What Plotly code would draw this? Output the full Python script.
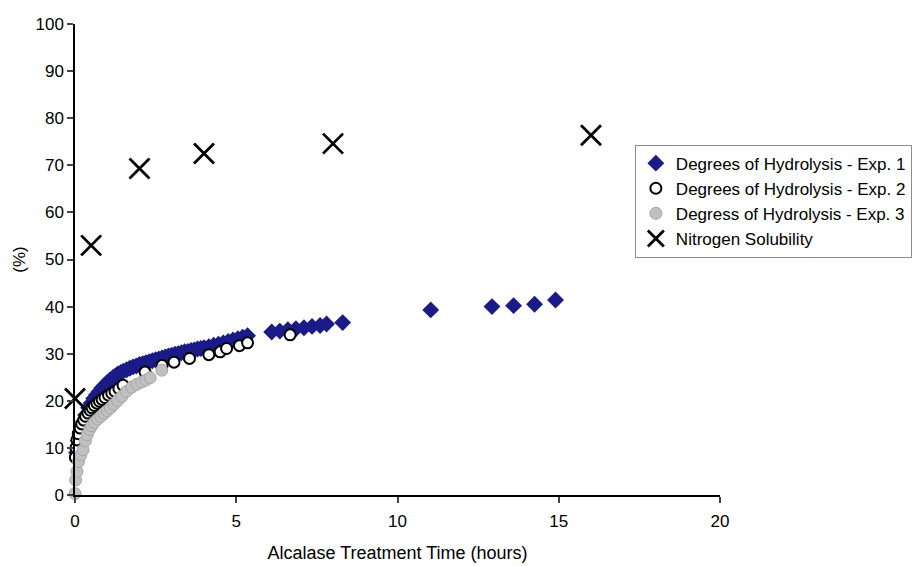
import plotly.graph_objects as go

# Exp. 1 - Degrees of Hydrolysis (blue diamonds)
exp1_t = [0.05, 0.1, 0.17, 0.25, 0.33, 0.42, 0.5, 0.58, 0.67, 0.75, 0.83, 0.92, 1.0, 1.08, 1.17,
          1.25, 1.33, 1.42, 1.5, 1.6, 1.7, 1.8, 1.9, 2.0, 2.1, 2.2, 2.3, 2.4, 2.5, 2.6, 2.7, 2.8,
          2.9, 3.0, 3.1, 3.2, 3.3, 3.4, 3.5, 3.6, 3.7, 3.8, 3.9, 4.0, 4.15, 4.3, 4.45, 4.6, 4.75,
          4.9, 5.05, 5.2, 5.35,
          6.1, 6.35, 6.6, 6.85, 7.1, 7.35, 7.6, 7.8, 8.3,
          11.03, 12.93, 13.6, 14.25, 14.9]
exp1_v = [9, 11.5, 13.5, 15.5, 17, 18.5, 19.5, 20.5, 21.3, 22, 22.7, 23.3, 23.9, 24.4, 24.9,
          25.3, 25.7, 26.0, 26.3, 26.6, 26.9, 27.2, 27.4, 27.7, 27.9, 28.1, 28.3, 28.5, 28.7, 28.9,
          29.1, 29.3, 29.5, 29.7, 29.9, 30.0, 30.2, 30.4, 30.5, 30.7, 30.8, 31.0, 31.1, 31.3, 31.5,
          31.8, 32.0, 32.3, 32.6, 32.9, 33.2, 33.5, 33.8,
          34.6, 34.8, 35.1, 35.3, 35.5, 35.8, 36.0, 36.3, 36.6,
          39.3, 40.0, 40.2, 40.5, 41.4]

# Exp. 2 - Degrees of Hydrolysis (open circles)
exp2_t = [0.01, 0.03, 0.06, 0.1, 0.16, 0.21, 0.27, 0.33, 0.4, 0.47, 0.53, 0.6, 0.68, 0.76, 0.84,
          0.93, 1.04, 1.14, 1.24, 1.36, 1.49, 2.17, 2.7, 3.07, 3.55, 4.15, 4.5, 4.7, 5.1, 5.35, 6.67]
exp2_v = [8, 10, 11.7, 13, 14.2, 15.1, 15.9, 16.7, 17.4, 18.0, 18.5, 19.0, 19.5, 19.9, 20.3,
          20.7, 21.2, 21.6, 22.0, 22.6, 23.3, 26.1, 27.5, 28.2, 29.0, 29.8, 30.4, 31.1, 31.7, 32.3, 34.0]

# Exp. 3 - Degrees of Hydrolysis (grey circles)
exp3_t = [0.0, 0.02, 0.06, 0.11, 0.18, 0.25, 0.32, 0.38, 0.45, 0.52, 0.6, 0.7, 0.8, 0.9, 1.0,
          1.1, 1.2, 1.32, 1.45, 1.6, 1.76, 1.92, 2.07, 2.2, 2.33, 2.69]
exp3_v = [0.3, 3.2, 5.0, 7.1, 8.5, 9.6, 11.5, 12.8, 13.9, 14.7, 15.4, 16.1, 16.7, 17.3, 17.9,
          18.5, 19.2, 20.0, 20.9, 22.0, 22.9, 23.5, 24.0, 24.4, 24.9, 26.5]

# Nitrogen Solubility (crosses)
ns_t = [0, 0.5, 2, 4, 8, 16]
ns_v = [20.5, 53, 69.3, 72.5, 74.6, 76.4]

x_ticks = [0, 5, 10, 15, 20]
y_ticks = [0, 10, 20, 30, 40, 50, 60, 70, 80, 90, 100]

FONT = "Liberation Sans, Arial, Helvetica, sans-serif"

fig = go.Figure()
fig.add_trace(go.Scatter(x=exp1_t, y=exp1_v, mode="markers", name="Degrees of Hydrolysis - Exp. 1",
                         marker=dict(symbol="diamond", size=13, color="#1b1b87",
                                     line=dict(width=0)), cliponaxis=False))
fig.add_trace(go.Scatter(x=exp2_t, y=exp2_v, mode="markers", name="Degrees of Hydrolysis - Exp. 2",
                         marker=dict(symbol="circle", size=11, color="white",
                                     line=dict(width=2, color="black")), cliponaxis=False))
fig.add_trace(go.Scatter(x=exp3_t, y=exp3_v, mode="markers", name="Degress of Hydrolysis - Exp. 3",
                         marker=dict(symbol="circle", size=12, color="#c0c0c0",
                                     line=dict(width=1, color="#a6a6a6")), cliponaxis=False))
fig.add_trace(go.Scatter(x=ns_t, y=ns_v, mode="markers", name="Nitrogen Solubility",
                         marker=dict(symbol="x-thin", size=20, color="black",
                                     line=dict(width=2.8, color="black")), cliponaxis=False))

fig.update_layout(
    width=912, height=566,
    margin=dict(l=75, r=192, t=24, b=71, autoexpand=False),
    paper_bgcolor="white", plot_bgcolor="white",
    font=dict(family=FONT, size=17, color="black"),
    showlegend=True,
    legend=dict(x=0.868, y=0.744, xanchor="left", yanchor="top",
                bgcolor="white", bordercolor="#8c8c8c", borderwidth=1,
                font=dict(family=FONT, size=17, color="black"),
                itemwidth=30, tracegroupgap=0),
    xaxis=dict(range=[0, 20], tickvals=x_ticks, ticks="outside", ticklen=6, tickwidth=1.5,
               showline=True, linecolor="black", linewidth=1.5, showgrid=False, zeroline=False,
               tickfont=dict(size=17), ticklabelstandoff=4,
               title=dict(text="Alcalase Treatment Time (hours)", font=dict(size=18), standoff=16)),
    yaxis=dict(range=[0, 100], tickvals=y_ticks, ticks="outside", ticklen=6, tickwidth=1.5,
               showline=True, linecolor="black", linewidth=1.5, showgrid=False, zeroline=False,
               tickfont=dict(size=17),
               title=dict(text="(%)", font=dict(size=17), standoff=6)),
)

fig.write_html("out.html")
